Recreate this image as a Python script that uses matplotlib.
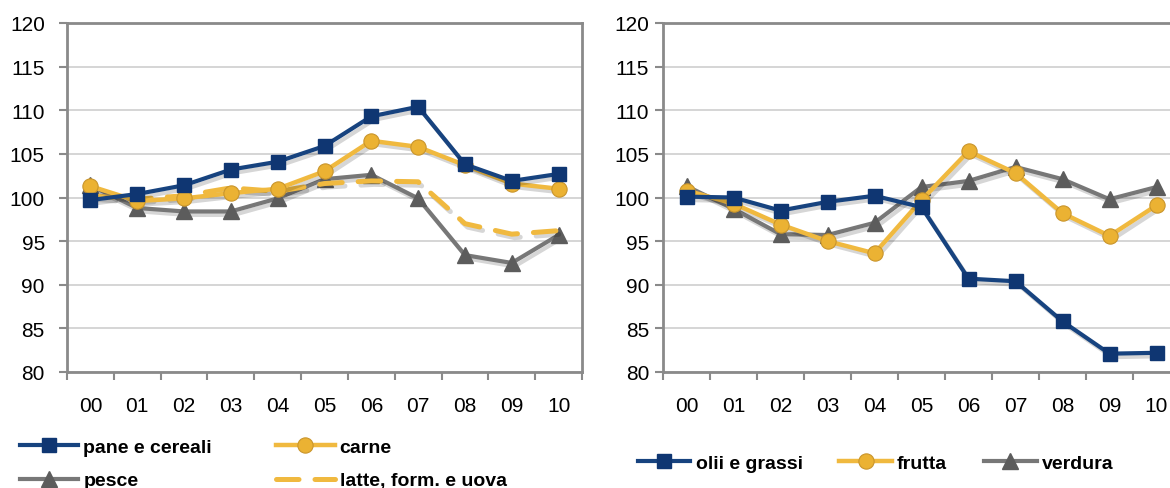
import numpy as np
import matplotlib
matplotlib.use("Agg")
import matplotlib.pyplot as plt
import matplotlib.patheffects as pe
from matplotlib.lines import Line2D
from matplotlib.ticker import MultipleLocator, FixedLocator

plt.rcParams['font.family'] = ['Liberation Sans', 'DejaVu Sans']

years = ["00", "01", "02", "03", "04", "05", "06", "07", "08", "09", "10"]

# left panel
pane_cereali = [99.7, 100.4, 101.4, 103.2, 104.1, 105.9, 109.3, 110.4, 103.8, 101.9, 102.7]
carne = [101.3, 99.6, 99.9, 100.5, 101.0, 103.0, 106.5, 105.8, 103.7, 101.6, 101.0]
pesce = [101.4, 98.8, 98.4, 98.4, 99.9, 102.1, 102.6, 99.9, 93.4, 92.5, 95.7]
latte_form_uova = [100.2, 99.8, 100.2, 101.1, 100.7, 101.6, 101.9, 101.8, 97.0, 95.8, 96.2]

# right panel
olii_grassi = [100.1, 100.0, 98.5, 99.5, 100.2, 98.9, 90.7, 90.4, 85.8, 82.1, 82.2]
frutta = [100.8, 99.3, 96.9, 95.0, 93.6, 99.7, 105.3, 102.8, 98.2, 95.6, 99.1]
verdura = [101.3, 98.7, 95.8, 95.7, 97.1, 101.2, 101.9, 103.5, 102.1, 99.8, 101.2]

NAVY_L, NAVY_M = '#17437f', '#0f3672'
YEL_L, YEL_M, YEL_E = '#f0b93f', '#ebb233', '#c9952c'
GREY_L, GREY_M = '#777777', '#5c5c5c'

shadow = [pe.SimpleLineShadow(offset=(2, -2.5), alpha=0.16, shadow_color='k'), pe.Normal()]

line_st = {
    'navy': dict(color=NAVY_L, lw=3),
    'yel': dict(color=YEL_L, lw=3.2),
    'grey': dict(color=GREY_L, lw=3),
}
mark_st = {
    'navy': dict(marker='s', ms=10.5, mfc=NAVY_M, mec=NAVY_M),
    'yel': dict(marker='o', ms=11, mfc=YEL_M, mec=YEL_E, mew=0.8),
    'grey': dict(marker='^', ms=11, mfc=GREY_M, mec=GREY_M),
}
dash_st = dict(color=YEL_L, lw=3.6, ls=(0, (4.5, 3.2)), dash_capstyle='round')

fig = plt.figure(figsize=(11.7, 4.89), dpi=100)
ax1 = fig.add_axes([67 / 1170, 1 - 373 / 489, 515 / 1170, 349 / 489])
ax2 = fig.add_axes([663 / 1170, 1 - 373 / 489, 517 / 1170, 349 / 489])

x = np.arange(len(years))


def style_axes(ax, ypad):
    ax.set_xlim(-0.5, len(years) - 0.5)
    ax.set_ylim(80, 120)
    ax.yaxis.set_major_locator(MultipleLocator(5))
    ax.set_xticks(x)
    ax.set_xticklabels(years)
    ax.xaxis.set_minor_locator(FixedLocator(np.arange(-0.5, len(years), 1)))
    ax.tick_params(axis='x', which='major', length=0, pad=17, labelsize=15)
    ax.tick_params(axis='x', which='minor', length=6, width=1.5, color='#8a8a8a')
    ax.tick_params(axis='y', length=6, width=1.5, color='#8a8a8a', pad=ypad, labelsize=15)
    ax.grid(axis='y', color='#d2d2d2', lw=1.3)
    ax.set_axisbelow(True)
    for s in ax.spines.values():
        s.set_color('#8a8a8a')
        s.set_linewidth(2)


def series(ax, y, key, z, label):
    ax.plot(x, y, path_effects=shadow, zorder=z, **line_st[key])
    ax.plot(x, y, ls='none', zorder=z + 0.1, **mark_st[key])
    return Line2D([], [], label=label, **line_st[key], **mark_st[key])


style_axes(ax1, 10)
style_axes(ax2, 4)

h1 = series(ax1, pane_cereali, 'navy', 5, 'pane e cereali')
h2 = series(ax1, carne, 'yel', 4, 'carne')
h3 = series(ax1, pesce, 'grey', 3, 'pesce')
ax1.plot(x, latte_form_uova, path_effects=shadow, zorder=3.5, **dash_st)
h4 = Line2D([], [], label='latte, form. e uova', **dash_st)

g1 = series(ax2, olii_grassi, 'navy', 5, 'olii e grassi')
g2 = series(ax2, frutta, 'yel', 4, 'frutta')
g3 = series(ax2, verdura, 'grey', 3, 'verdura')

leg_font = dict(size=14, weight='bold')
fig.legend(handles=[h1, h3, h2, h4], loc='center left', bbox_to_anchor=(20 / 1170, 1 - 465 / 489),
           ncol=2, frameon=False, prop=leg_font, handlelength=3.0, handletextpad=0.26,
           columnspacing=3.3, labelspacing=0.8, borderpad=0, borderaxespad=0)
fig.legend(handles=[g1, g2, g3], loc='center left', bbox_to_anchor=(638 / 1170, 1 - 464 / 489),
           ncol=3, frameon=False, prop=leg_font, handlelength=2.7, handletextpad=0.26,
           columnspacing=1.9, borderpad=0, borderaxespad=0)

fig.savefig('out.png', dpi=100)
